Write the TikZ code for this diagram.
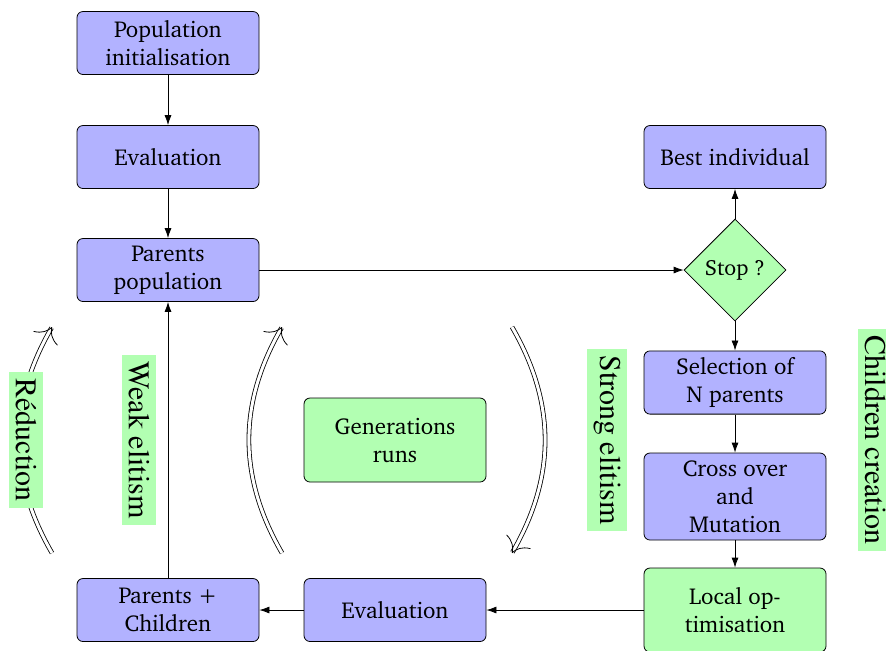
\documentclass[tikz,border=0pt]{standalone}
\usepackage[T1]{fontenc}
\usepackage{charter}
\usetikzlibrary{shapes.geometric,arrows.meta}
\tikzset{
  box/.style={draw, rounded corners=3pt, minimum width=91pt, minimum height=31.5pt, align=center, font=\fontsize{11.5}{14}\selectfont},
  bluebox/.style={box, fill=blue!30},
  greenbox/.style={box, fill=green!30},
  lbl/.style={fill=green!30, rotate=-90, font=\fontfamily{ptm}\fontsize{15}{17}\selectfont},
  conn/.style={-{Latex[length=5pt,width=3.5pt]}},
  cycle/.style={double, double distance=1.5pt, ->}
}
\begin{document}
\begin{tikzpicture}[x=0.5pt,y=-0.5pt]
\useasboundingbox (0,0) rectangle (886,650);
\node[bluebox] (pinit) at (168,43) {Population\\initialisation};
\node[bluebox] (eval1) at (168,157) {Evaluation};
\node[bluebox] (parents) at (168,270) {Parents\\population};
\node[bluebox] (pc) at (168,610) {Parents +\\Children};
\node[bluebox] (eval2) at (395,610) {Evaluation};
\node[greenbox, minimum height=42pt] (local) at (735,610) {Local op-\\timisation};
\node[bluebox, minimum height=43.5pt] (cross) at (735,496.5) {Cross over\\and\\Mutation};
\node[bluebox] (sel) at (735,382.5) {Selection of\\N parents};
\node[draw, diamond, fill=green!30, minimum size=51pt, inner sep=0pt, font=\fontsize{11}{14}\selectfont] (stop) at (735,270) {Stop ?};
\node[bluebox] (best) at (735,157) {Best individual};
\node[greenbox, minimum height=42pt] (gen) at (395,440) {Generations\\runs};

\draw[conn] (pinit) -- (eval1);
\draw[conn] (eval1) -- (parents);
\draw[conn] (parents) -- (stop);
\draw[conn] (stop) -- (best);
\draw[conn] (stop) -- (sel);
\draw[conn] (sel) -- (cross);
\draw[conn] (cross) -- (local);
\draw[conn] (local) -- (eval2);
\draw[conn] (eval2) -- (pc);
\draw[conn] (pc) -- (parents);

\coordinate (a1) at (52,553);
\coordinate (a2) at (52,327);
\coordinate (b1) at (282,553);
\coordinate (b2) at (282,327);
\coordinate (c1) at (512,327);
\coordinate (c2) at (512,553);
\draw[cycle] (a1) to[bend left=30] (a2);
\draw[cycle] (b1) to[bend left=30] (b2);
\draw[cycle] (c1) to[bend left=30] (c2);

\node[lbl] (red) at (26,440) {R\'eduction};
\node[lbl] (weak) at (139,440) {Weak elitism};
\node[lbl] (strong) at (607,440) {Strong elitism};
\node[lbl] (child) at (875,440) {Children creation};
\end{tikzpicture}
\end{document}
